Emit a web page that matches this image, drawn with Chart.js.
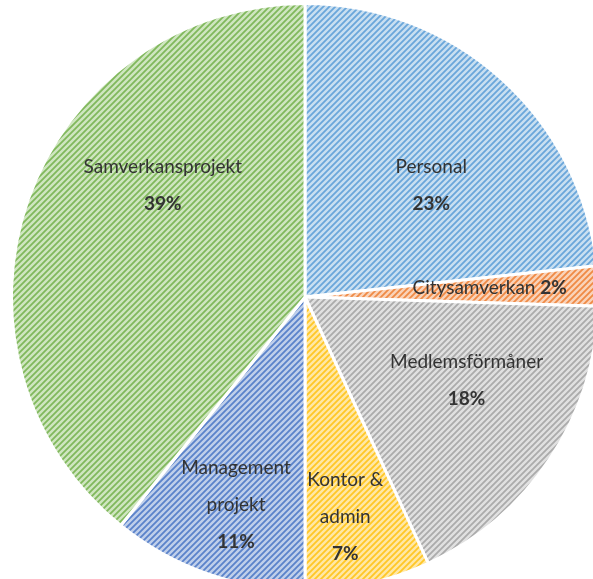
<!DOCTYPE html>
<html>
<head>
<meta charset="utf-8">
<script src="https://cdn.jsdelivr.net/npm/chart.js@4"></script>
<style>
  html, body { margin: 0; padding: 0; background: #fff; overflow: hidden; }
  #wrap { position: absolute; left: 10px; top: 2px; width: 590px; height: 590px; }
</style>
</head>
<body>
<div id="wrap"><canvas id="myChart"></canvas></div>
<script>
// categories and shares (percent), clockwise from 12 o'clock
const categories = ['Personal', 'Citysamverkan', 'Medlemsförmåner', 'Kontor & admin', 'Management projekt', 'Samverkansprojekt'];
const shares = [23.3, 2.2, 17.6, 6.9, 10.8, 39.2];
const shareLabels = ['23%', '2%', '18%', '7%', '11%', '39%'];

// how each label is broken into lines inside its slice
const labelLines = [
  ['Personal'],
  ['Citysamverkan'],
  ['Medlemsförmåner'],
  ['Kontor &', 'admin'],
  ['Management', 'projekt'],
  ['Samverkansprojekt']
];

// label anchor: angle (deg from top, clockwise) and fraction of radius
const labelAnchor = [[48.4, 0.575], [87.2, 0.63], [117.4, 0.62], [169.6, 0.76], [198.4, 0.745], [308, 0.615]];

const lineColors = ['#6aa6da', '#ef8a45', '#ababab', '#ffc726', '#5a82ca', '#80b85c'];
const lightColors = ['#c9dff1', '#f9d3b9', '#e0e0e0', '#ffe8a6', '#bfcfea', '#cfe6c0'];

function hatch(light, dark) {
  const s = 6;
  const c = document.createElement('canvas');
  c.width = s; c.height = s;
  const g = c.getContext('2d');
  g.fillStyle = light;
  g.fillRect(0, 0, s, s);
  g.strokeStyle = dark;
  g.lineWidth = 1.8;
  g.beginPath();
  g.moveTo(-1, s + 1); g.lineTo(s + 1, -1);
  g.moveTo(-1, 1); g.lineTo(1, -1);
  g.moveTo(s - 1, s + 1); g.lineTo(s + 1, s - 1);
  g.stroke();
  return g.createPattern(c, 'repeat');
}

const fills = lightColors.map((c, i) => hatch(c, lineColors[i]));

const FONT = 'Lato, "Open Sans", sans-serif';

const sliceLabels = {
  id: 'sliceLabels',
  afterDatasetsDraw(chart) {
    const ctx = chart.ctx;
    const arcs = chart.getDatasetMeta(0).data;
    ctx.save();
    ctx.fillStyle = '#333333';
    ctx.textBaseline = 'middle';
    arcs.forEach((arc, i) => {
      const p = arc.getProps(['x', 'y', 'outerRadius'], true);
      const a = labelAnchor[i][0] * Math.PI / 180;
      const r = labelAnchor[i][1] * p.outerRadius;
      const cx = p.x + Math.sin(a) * r;
      const cy = p.y - Math.cos(a) * r;
      const lineH = 37;
      const regular = '19px ' + FONT;
      const bold = 'bold 19px ' + FONT;
      if (i === 1) {
        // single line: name + bold percent
        ctx.font = regular;
        const w1 = ctx.measureText(labelLines[i][0] + ' ').width;
        ctx.font = bold;
        const w2 = ctx.measureText(shareLabels[i]).width;
        let x = cx - (w1 + w2) / 2;
        ctx.textAlign = 'left';
        ctx.font = regular;
        ctx.fillText(labelLines[i][0] + ' ', x, cy);
        ctx.font = bold;
        ctx.fillText(shareLabels[i], x + w1, cy);
        return;
      }
      const lines = labelLines[i].length + 1;
      let y = cy - (lines - 1) * lineH / 2;
      ctx.textAlign = 'center';
      ctx.font = regular;
      labelLines[i].forEach(t => { ctx.fillText(t, cx, y); y += lineH; });
      ctx.font = bold;
      ctx.fillText(shareLabels[i], cx, y);
    });
    ctx.restore();
  }
};

new Chart(document.getElementById('myChart'), {
  type: 'pie',
  data: {
    labels: categories,
    datasets: [{
      data: shares,
      backgroundColor: fills,
      borderColor: '#ffffff',
      borderWidth: 3
    }]
  },
  options: {
    responsive: true,
    maintainAspectRatio: false,
    animation: false,
    layout: { padding: 0 },
    plugins: {
      legend: { display: false },
      tooltip: { enabled: false }
    }
  },
  plugins: [sliceLabels]
});
</script>
</body>
</html>
